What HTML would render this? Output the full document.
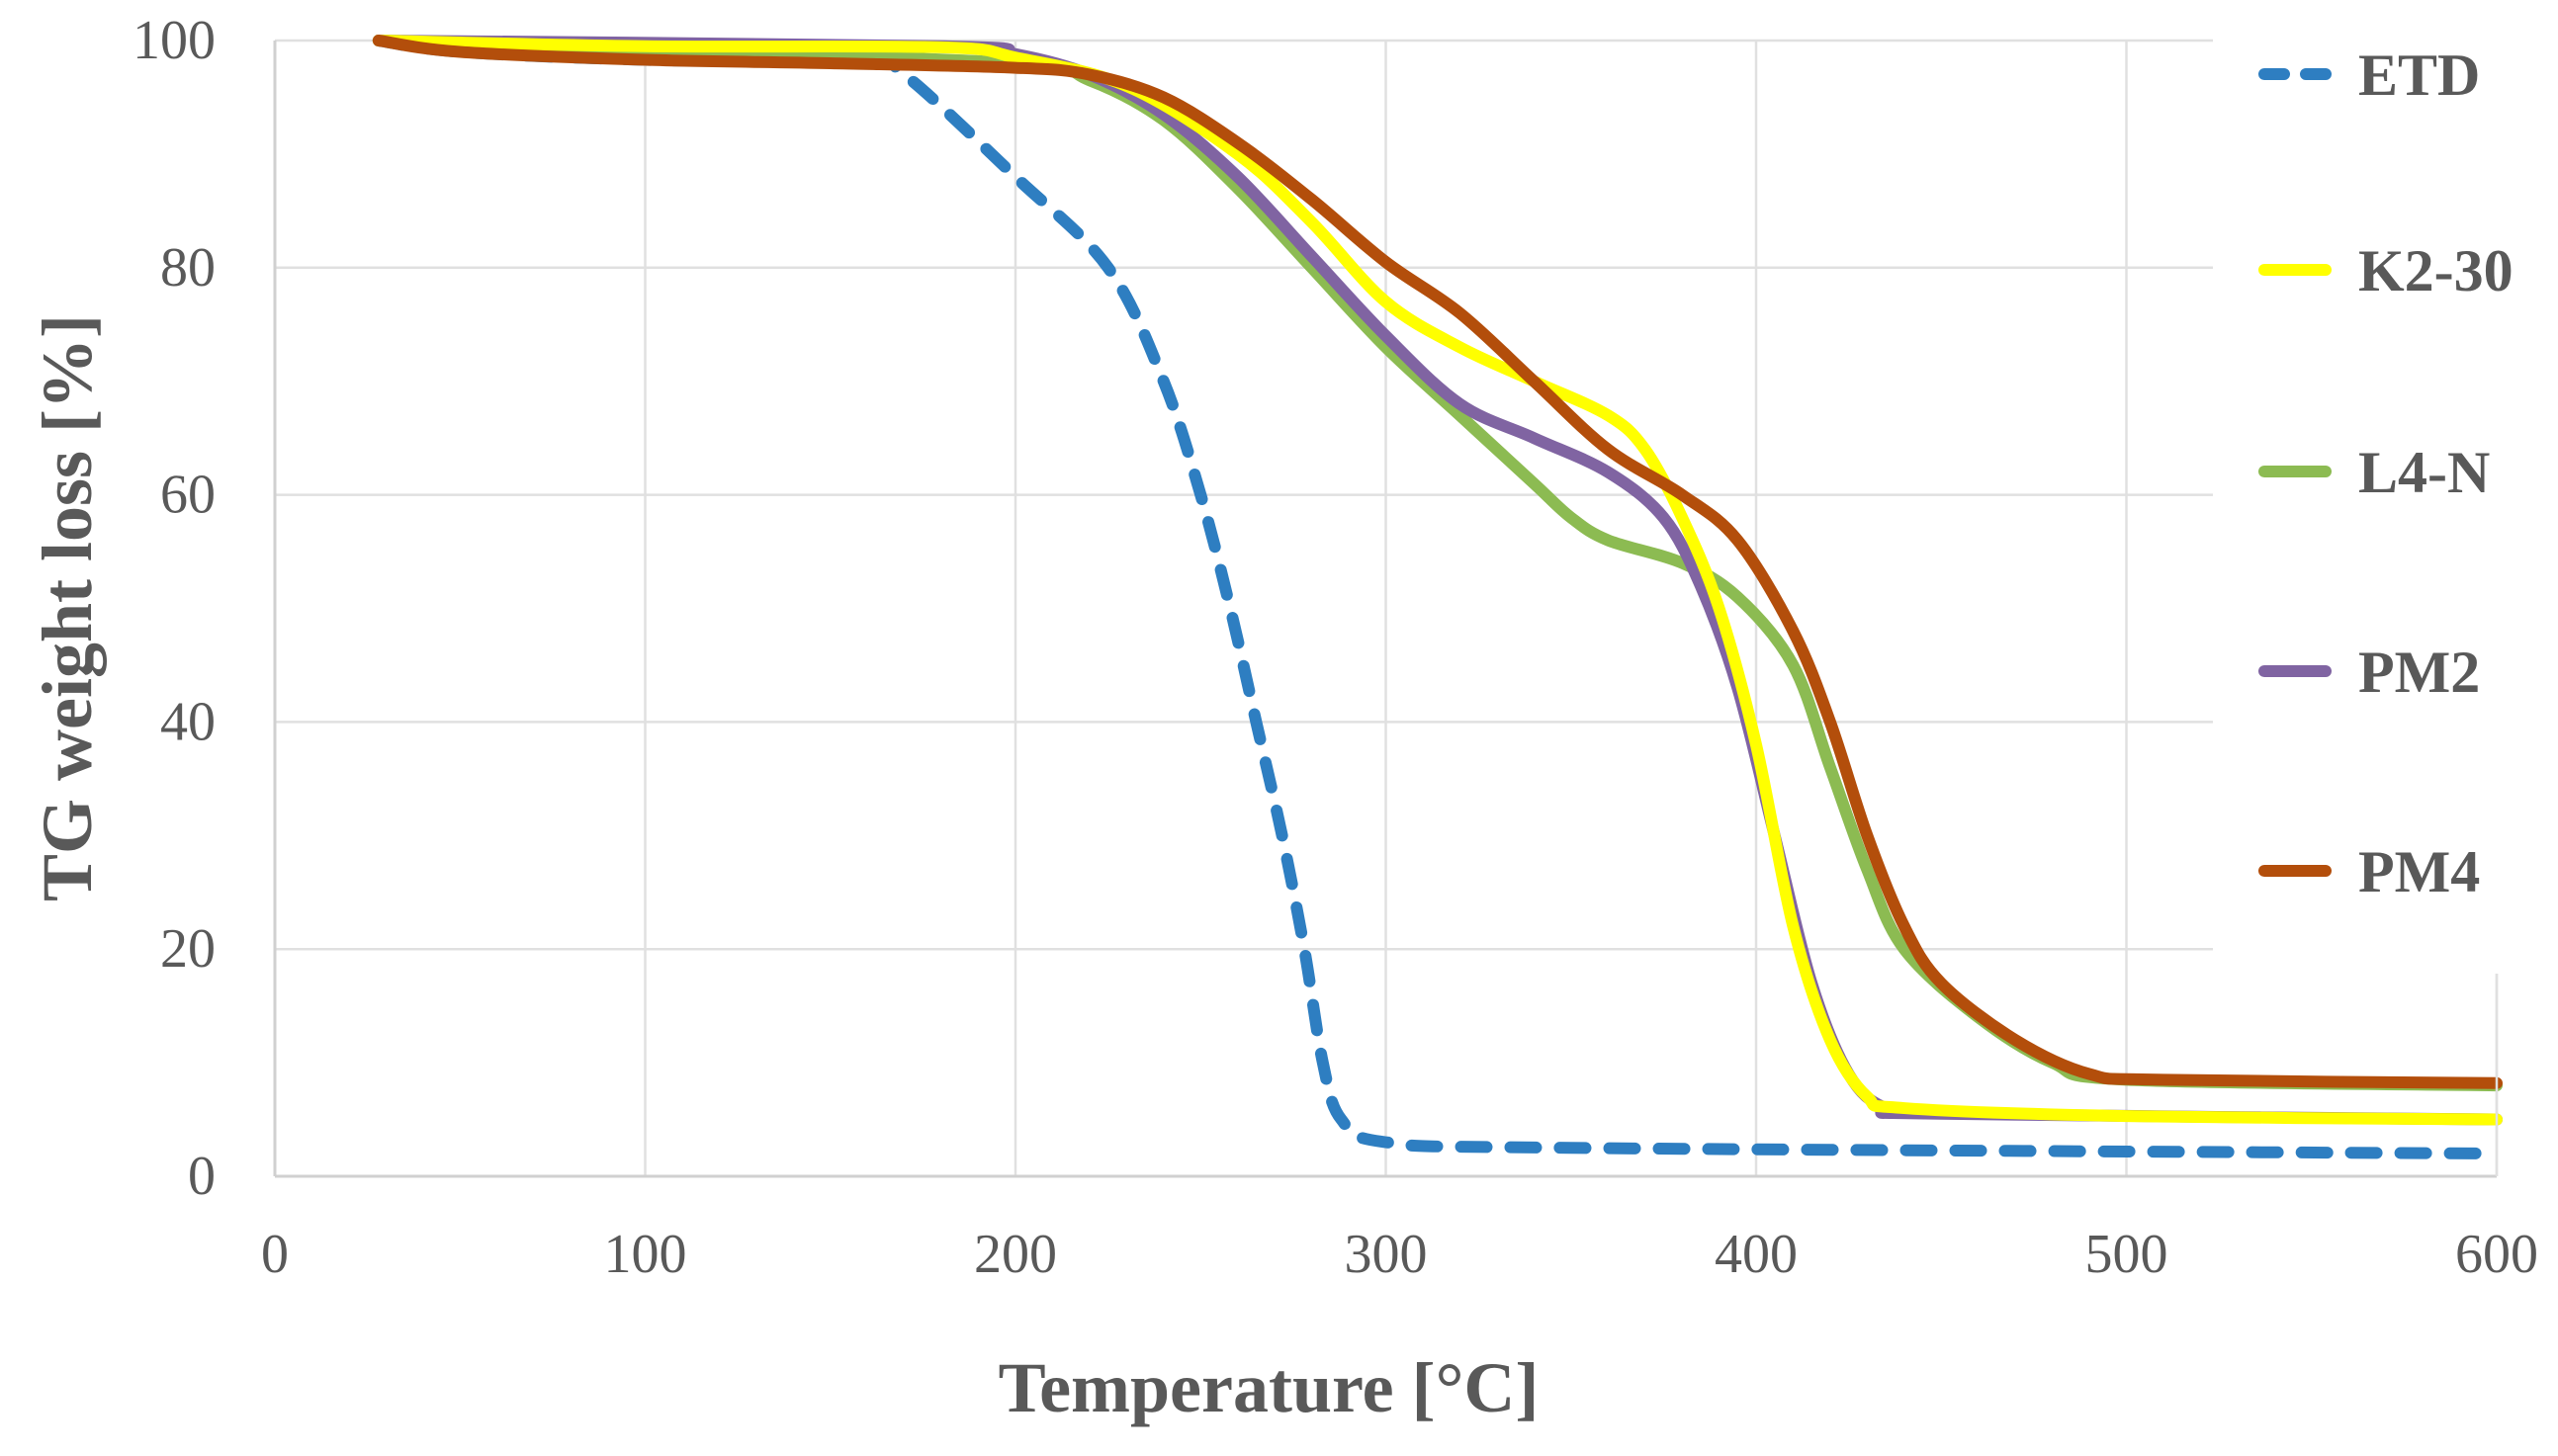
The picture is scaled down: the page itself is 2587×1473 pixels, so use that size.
<!DOCTYPE html>
<html><head><meta charset="utf-8"><style>
html,body{margin:0;padding:0;background:#fff;}
svg{display:block;}
text{font-family:"Liberation Serif",serif;fill:#595959;}
</style></head><body>
<svg id="chart" width="2587" height="1473" viewBox="0 0 2587 1473" xmlns="http://www.w3.org/2000/svg">
<g id="grid"></g>
<g id="series"></g>
<rect x="2238" y="0" width="349" height="985" fill="#fff"/>
<g id="axes"></g>
<g id="legend"></g>
<text x="1283" y="1428" font-size="72" font-weight="bold" text-anchor="middle">Temperature [°C]</text>
<text transform="translate(92,615) rotate(-90)" font-size="72" font-weight="bold" text-anchor="middle">TG weight loss [%]</text>
</svg>
<script>
const xTicks=[0,100,200,300,400,500,600];
const yTicks=[0,20,40,60,80,100];
const seriesNames=["ETD","K2-30","L4-N","PM2","PM4"];
const etdT=[28,50,100,160,170,200,225,240,250,258,265,272,278,283,288,300,350,600];
const etdW=[100,99,98.3,98,97,88,80,70,60,50,40,30,20,10,5,3,2.5,2];
const k230T=[28,100,180,200,230,260,280,300,320,340,360,370,380,390,400,410,420,430,440,500,600];
const k230W=[100,99.5,99.4,98.5,96,90,84,77,73,70,67,64,58,50,38,22,12,7,6,5.3,5];
const l4nT=[28,100,200,220,240,260,280,300,320,340,350,360,380,395,410,420,430,440,460,480,500,600];
const l4nW=[100,99.2,98,96.5,93,87,80,73,67,61,58,56,54,51,45,36,27,20,14,10,8.5,8];
const pm2T=[28,180,200,220,240,260,280,300,320,340,360,375,385,395,405,415,425,435,450,600];
const pm2W=[100,99.5,98.8,97,93.5,88,81,74,68,65,62,58,52,43,30,17,9,6,5.5,5];
const pm4T=[28,50,100,150,200,220,240,260,280,300,320,340,360,380,395,410,420,430,440,450,470,490,510,600];
const pm4W=[100,99,98.3,98,97.6,97,95,91,86,80.5,76,70,64,60,56,48,40,30,22,17,12,9,8.5,8.2];

const X0=278,X1=2525,Y0=1190,Y1=41;
const xs=v=>X0+(v-0)/(600-0)*(X1-X0);
const ys=v=>Y0-(v-0)/(100-0)*(Y0-Y1);
const NS="http://www.w3.org/2000/svg";
function mk(tag,attrs,parent){const e=document.createElementNS(NS,tag);for(const k in attrs)e.setAttribute(k,attrs[k]);parent.appendChild(e);return e;}
const grid=document.getElementById('grid'),axes=document.getElementById('axes'),ser=document.getElementById('series'),leg=document.getElementById('legend');
xTicks.forEach((t,i)=>{
  if(t>0){const l=mk('line',{x1:xs(t),x2:xs(t),y1:Y1,y2:Y0,stroke:'#e0e0e0','stroke-width':2.5},grid);
  
  }
  const tx=mk('text',{x:xs(t),y:Y0+97,'font-size':56,'text-anchor':'middle'},axes);tx.textContent=t;
  
  
});
yTicks.forEach(t=>{
  if(t>0){const l=mk('line',{x1:X0,x2:X1,y1:ys(t),y2:ys(t),stroke:'#e0e0e0','stroke-width':2.5},grid);
  
  }
  const tx=mk('text',{x:X0-60,y:ys(t)+18,'font-size':56,'text-anchor':'end'},axes);tx.textContent=t;
  
  
});
const ax1=mk('line',{x1:X0,x2:X0,y1:Y1,y2:Y0,stroke:'#d0d0d0','stroke-width':3},axes);


const ax2=mk('line',{x1:X0,x2:X1,y1:Y0,y2:Y0,stroke:'#d0d0d0','stroke-width':3},axes);


const rb=mk('line',{x1:X1,x2:X1,y1:985,y2:Y0,stroke:'#e0e0e0','stroke-width':2.5},axes);



function pathD(T,W){
  const p=T.map((t,i)=>[xs(t),ys(W[i])]);
  let d='M'+p[0][0]+','+p[0][1];
  for(let i=0;i<p.length-1;i++){
    const a=p[i-1]||p[i],b=p[i],c=p[i+1],e=p[i+2]||c;
    const c1=[b[0]+(c[0]-a[0])/6,b[1]+(c[1]-a[1])/6],c2=[c[0]-(e[0]-b[0])/6,c[1]-(e[1]-b[1])/6];
    d+=' C'+c1+' '+c2+' '+c;
  }
  return d;
}
const defs=[[etdT,etdW,'#2E7EC1','26 24','series-etd'],[l4nT,l4nW,'#8CBB52',null,'series-l4-n'],[pm2T,pm2W,'#8064A2',null,'series-pm2'],[k230T,k230W,'#FFFF00',null,'series-k2-30'],[pm4T,pm4W,'#B34E0B',null,'series-pm4']];
defs.forEach(s=>{
  const a={d:pathD(s[0],s[1]),fill:'none',stroke:s[2],'stroke-width':12,'stroke-linecap':'round','stroke-linejoin':'round'};
  if(s[3])a['stroke-dasharray']=s[3];
  const p=mk('path',a,ser);
  
  
});
const legColors=['#2E7EC1','#FFFF00','#8CBB52','#8064A2','#B34E0B'];
const legY=[75,273,477,679,881];
seriesNames.forEach((n,i)=>{
  const g=mk('g',{},leg);
  
  
  const a={x1:2290,x2:2352,y1:legY[i],y2:legY[i],stroke:legColors[i],'stroke-width':12,'stroke-linecap':'round'};
  if(i===0)a['stroke-dasharray']='20 22';
  mk('line',a,g);
  const t=mk('text',{x:2385,y:legY[i]+21,'font-size':60,'font-weight':'bold'},g);t.textContent=n;
});
</script>
</body></html>
